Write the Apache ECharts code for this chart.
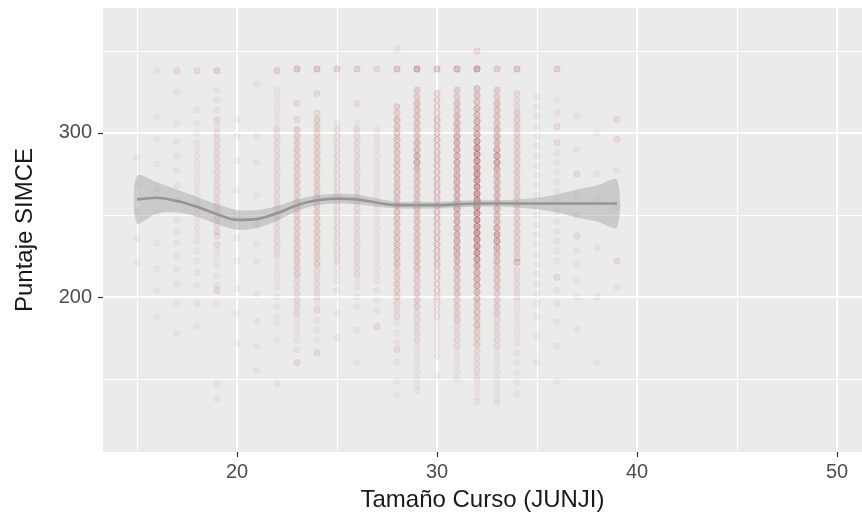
<!DOCTYPE html>
<html>
<head>
<meta charset="utf-8">
<script src="https://cdn.jsdelivr.net/npm/echarts@6.0.0/dist/echarts.min.js"></script>
<style>
  html, body { margin: 0; padding: 0; background: #fff; }
  #chart { width: 862px; height: 527px; }
</style>
</head>
<body>
<div id="chart"></div>
<script>
// puntajes por tamaño de curso: [puntaje, n° de escuelas]
var c15 = [[285,1],[268,1],[252,1],[236,1],[221,1]];
var c16 = [[338,1],[310,1],[296,1],[281,1],[266,1],[251,1],[233,1],[217,1],[204,1],[188,1]];
var c17 = [[338,2],[325,1],[306,1],[295,1],[286,1],[277,1],[268,1],[259,1],[247,1],[240,1],[233,1],[225,1],[217,1],[208,1],[196,1],[178,1]];
var c18 = [[338,2],[314,1],[306,1],[300,1],[294,1],[290,1],[286,1],[282,1],[278,1],[274,1],[270,1],[266,1],[262,1],[258,1],[254,1],[250,1],[246,1],[242,1],[238,1],[234,1],[228,1],[222,1],[215,1],[207,1],[196,1],[182,1]];
var c19 = [[338,3],[326,1],[320,1],[314,1],[308,2],[304,1],[300,2],[296,2],[292,2],[288,2],[284,2],[280,2],[276,2],[272,2],[268,2],[264,2],[260,2],[256,2],[252,2],[248,2],[244,2],[240,2],[237,2],[232,2],[228,1],[224,1],[219,1],[213,1],[207,1],[204,2],[196,1],[147,1],[138,1]];
var c20 = [[308,1],[298,1],[283,1],[265,1],[250,1],[236,1],[222,1],[205,1],[190,1],[172,1]];
var c21 = [[330,1],[298,1],[282,1],[262,1],[244,1],[232,1],[222,1],[202,1],[185,1],[170,1],[155,1]];
var c22 = [[338,3],[326,1],[322,1],[318,1],[314,1],[310,1],[306,1],[302,2],[298,2],[294,2],[290,2],[286,2],[282,2],[278,2],[274,2],[270,2],[266,2],[262,2],[258,2],[254,2],[250,2],[246,2],[242,2],[238,2],[234,2],[230,2],[226,2],[222,1],[218,1],[214,1],[210,1],[206,1],[200,1],[194,1],[188,1],[184,1],[174,1],[147,1]];
var c23 = [[339,4],[318,2],[308,2],[302,3],[298,3],[294,3],[290,3],[286,3],[282,3],[278,3],[274,3],[270,3],[266,3],[262,3],[258,3],[254,3],[250,3],[246,3],[242,3],[238,3],[234,3],[230,3],[226,3],[222,3],[218,3],[214,3],[210,2],[206,2],[202,2],[198,2],[194,2],[190,2],[186,1],[182,1],[178,1],[174,1],[168,1],[160,2]];
var c24 = [[339,4],[324,2],[312,2],[308,3],[304,3],[300,3],[296,3],[292,3],[288,3],[284,3],[280,3],[276,3],[272,3],[268,3],[264,3],[260,3],[256,3],[252,3],[248,3],[244,3],[240,3],[236,3],[232,3],[228,3],[224,3],[220,3],[216,2],[212,2],[208,2],[204,2],[200,2],[196,1],[192,2],[186,1],[180,1],[174,1],[166,2]];
var c25 = [[339,3],[306,1],[302,2],[298,2],[294,2],[290,2],[286,2],[282,2],[278,2],[274,2],[270,2],[266,2],[262,2],[258,2],[254,2],[250,2],[246,2],[242,2],[238,2],[234,2],[230,2],[226,2],[222,2],[218,1],[214,1],[210,1],[204,1],[190,1],[175,1]];
var c26 = [[339,3],[318,2],[306,1],[302,2],[298,2],[294,2],[290,2],[286,2],[282,2],[278,2],[274,2],[270,2],[266,2],[262,2],[258,2],[254,2],[250,2],[246,2],[242,2],[238,2],[234,2],[230,2],[226,2],[222,2],[218,2],[214,2],[210,1],[206,1],[200,1],[194,1],[180,1],[160,1]];
var c27 = [[339,2],[302,1],[298,1],[294,1],[290,1],[286,1],[282,1],[278,1],[274,1],[270,1],[266,1],[262,1],[258,1],[254,1],[250,1],[246,1],[242,1],[238,1],[234,1],[230,1],[226,1],[222,1],[218,1],[214,1],[210,1],[204,1],[198,1],[192,1],[182,2]];
var c28 = [[351,1],[339,4],[316,3],[312,3],[308,4],[304,4],[300,4],[296,4],[292,4],[288,4],[284,4],[280,4],[276,4],[272,4],[268,4],[264,4],[260,4],[256,4],[252,4],[248,4],[244,4],[240,4],[236,4],[232,4],[228,4],[224,4],[220,4],[216,3],[212,3],[208,3],[204,3],[200,3],[196,2],[192,2],[188,2],[184,1],[178,1],[172,1],[168,2],[160,1],[149,1],[140,1]];
var c29 = [[339,6],[326,3],[322,3],[318,4],[314,4],[310,4],[306,4],[302,4],[298,4],[294,5],[290,5],[286,6],[282,6],[278,5],[274,4],[270,4],[266,4],[262,4],[258,4],[254,4],[250,4],[246,4],[242,4],[238,4],[234,4],[230,4],[226,4],[222,4],[218,4],[214,3],[210,3],[206,3],[202,3],[198,3],[194,3],[190,2],[186,2],[182,2],[178,2],[174,2],[170,1],[166,1],[162,1],[158,1],[154,1],[150,1],[146,1],[143,1]];
var c30 = [[339,4],[324,3],[320,3],[316,3],[312,3],[308,4],[304,4],[300,4],[296,4],[292,4],[288,4],[284,4],[280,4],[276,4],[272,4],[268,4],[264,4],[260,4],[256,4],[252,4],[248,4],[244,4],[240,4],[236,4],[232,4],[228,4],[224,4],[220,4],[216,3],[212,3],[208,3],[204,3],[200,3],[196,2],[192,2],[188,2],[184,1],[180,1],[176,1],[172,1],[168,1],[164,1],[152,1]];
var c31 = [[339,5],[326,3],[322,3],[318,4],[314,4],[310,5],[306,5],[302,5],[298,6],[294,6],[290,6],[286,6],[282,6],[278,6],[274,6],[270,6],[266,6],[262,6],[258,6],[254,6],[250,6],[246,6],[242,6],[238,6],[234,6],[230,6],[226,6],[222,5],[218,5],[214,4],[210,4],[206,4],[202,4],[198,3],[194,3],[190,3],[186,3],[182,2],[178,2],[174,2],[170,2],[166,1],[162,1],[158,1],[154,1],[150,1]];
var c32 = [[350,2],[339,7],[327,4],[323,4],[319,4],[315,5],[311,5],[307,6],[303,6],[299,7],[295,8],[291,9],[287,9],[283,9],[279,9],[275,9],[271,9],[267,9],[263,9],[259,9],[255,9],[251,9],[247,9],[243,9],[239,9],[235,9],[231,9],[227,9],[223,8],[219,7],[215,6],[211,6],[207,6],[203,5],[199,5],[195,4],[191,4],[187,4],[183,4],[179,3],[175,3],[171,3],[167,2],[163,2],[159,2],[155,2],[151,2],[147,1],[143,1],[139,1],[136,1]];
var c33 = [[339,3],[326,3],[322,3],[318,4],[314,4],[310,4],[306,4],[302,5],[298,5],[294,5],[290,6],[286,7],[282,7],[278,6],[274,5],[270,5],[266,5],[262,5],[258,5],[254,5],[250,5],[246,5],[242,6],[238,7],[234,7],[230,6],[226,5],[222,5],[218,4],[214,4],[210,4],[206,4],[202,3],[198,3],[194,3],[190,3],[186,2],[182,2],[178,2],[174,2],[170,2],[166,1],[162,1],[158,1],[154,1],[150,1],[146,1],[142,1],[138,1],[135,1]];
var c34 = [[339,4],[324,2],[320,2],[316,2],[312,3],[308,3],[304,3],[300,3],[296,3],[292,3],[288,3],[284,3],[280,3],[276,3],[272,3],[268,3],[264,3],[260,3],[256,3],[252,3],[248,3],[244,3],[240,3],[236,3],[232,3],[228,3],[224,3],[221,4],[216,2],[212,2],[208,2],[204,2],[200,2],[196,1],[192,1],[188,1],[184,1],[180,1],[176,1],[172,1],[166,1],[160,1],[154,1],[148,1],[141,1]];
var c35 = [[322,1],[316,1],[310,1],[304,1],[298,1],[292,1],[286,1],[280,1],[274,1],[268,1],[262,1],[256,1],[250,1],[244,1],[238,1],[232,1],[226,1],[220,1],[214,1],[208,1],[202,1],[196,1],[188,1],[176,1],[160,1]];
var c36 = [[339,3],[320,1],[312,1],[304,2],[294,2],[288,1],[282,1],[276,1],[270,1],[264,1],[258,1],[252,1],[246,1],[240,1],[234,1],[228,1],[222,1],[212,2],[204,1],[196,1],[185,1],[170,1],[149,1]];
var c37 = [[310,1],[290,1],[275,2],[262,1],[250,1],[237,2],[228,1],[220,1],[210,1],[200,1],[180,1]];
var c38 = [[300,1],[275,1],[260,1],[230,1],[200,1],[160,1]];
var c39 = [[308,2],[296,2],[277,1],[255,1],[222,2],[206,1]];

var tamanos = [15,16,17,18,19,20,21,22,23,24,25,26,27,28,29,30,31,32,33,34,35,36,37,38,39];
var columnas = [c15,c16,c17,c18,c19,c20,c21,c22,c23,c24,c25,c26,c27,c28,c29,c30,c31,c32,c33,c34,c35,c36,c37,c38,c39];

// curva loess y banda de confianza
var suaveX = [15,16,17,18,19,20,21,22,23,24,25,26,27,28,29,30,31,32,33,34,35,36,37,38,39];
var suaveY = [259.5,260.5,258.5,255,250.5,247,247.5,251,256,259,260,259.5,257.5,256,256,256,256.5,257,257,257,257,257,257,257,257];
var bandaInf = [245,251,251.5,249,244.5,241,242,246.5,252.5,256,257,256.5,255,254,254,254,254.5,255,255,254.5,253.5,251.5,248.5,246,242.5];
var bandaSup = [274,270,265.5,261,256.5,253,253,255.5,259.5,262,263,262.5,260,258,258,258,258.5,259,259,259.5,260.5,262.5,265.5,268,271.5];

var xTicks = [20, 30, 40, 50];
var yTicks = [200, 300];

var puntos = [];
tamanos.forEach(function (t, i) {
  columnas[i].forEach(function (p) {
    for (var k = 0; k < p[1]; k++) puntos.push([t, p[0]]);
  });
});

var fuente = "'Liberation Sans', Arial, sans-serif";
var myChart = echarts.init(document.getElementById('chart'));
var option = {
  animation: false,
  grid: {
    left: 103, right: 0, top: 8, bottom: 75,
    show: true, backgroundColor: '#EBEBEB', borderWidth: 0
  },
  xAxis: {
    type: 'value',
    min: 13.3, max: 51.25,
    splitNumber: 4,
    name: 'Tamaño Curso (JUNJI)',
    nameLocation: 'middle',
    nameGap: 36,
    nameTextStyle: { fontFamily: fuente, fontSize: 24, color: '#1a1a1a' },
    axisLine: { show: false },
    axisTick: { show: true, length: 5, customValues: xTicks, lineStyle: { color: '#333', width: 1.2 } },
    axisLabel: { customValues: xTicks, margin: 10, fontFamily: fuente, fontSize: 20, color: '#4D4D4D' },
    splitLine: { show: true, lineStyle: { color: '#fff', width: 1.8 } },
    minorTick: { show: false, splitNumber: 2 },
    minorSplitLine: { show: true, lineStyle: { color: '#fff', width: 0.9 } }
  },
  yAxis: {
    type: 'value',
    min: 105.5, max: 376.2,
    splitNumber: 3,
    name: 'Puntaje SIMCE',
    nameLocation: 'middle',
    nameGap: 66,
    nameTextStyle: { fontFamily: fuente, fontSize: 24, color: '#1a1a1a' },
    axisLine: { show: false },
    axisTick: { show: true, length: 5, customValues: yTicks, lineStyle: { color: '#333', width: 1.2 } },
    axisLabel: { customValues: yTicks, margin: 11, fontFamily: fuente, fontSize: 20, color: '#4D4D4D' },
    splitLine: { show: true, lineStyle: { color: '#fff', width: 1.8 } },
    minorTick: { show: false, splitNumber: 2 },
    minorSplitLine: { show: true, lineStyle: { color: '#fff', width: 0.9 } }
  },
  series: [
    {
      type: 'scatter',
      data: puntos,
      symbolSize: 6.5,
      progressive: 0,
      z: 2,
      silent: true,
      itemStyle: {
        color: 'rgba(165,35,40,0.06)',
        borderColor: 'rgba(150,40,45,0.045)',
        borderWidth: 0.9
      }
    },
    {
      type: 'custom',
      z: 3,
      silent: true,
      data: suaveX.map(function (x, i) { return [x, bandaInf[i], bandaSup[i]]; }),
      encode: { x: 0, y: [1, 2] },
      renderItem: function (params, api) {
        if (params.dataIndex !== 0) return null;
        var pts = [];
        for (var i = 0; i < suaveX.length; i++) pts.push(api.coord([suaveX[i], bandaSup[i]]));
        for (var j = suaveX.length - 1; j >= 0; j--) pts.push(api.coord([suaveX[j], bandaInf[j]]));
        return {
          type: 'polygon',
          shape: { points: pts, smooth: 0.3 },
          style: { fill: 'rgba(153,153,153,0.4)' }
        };
      }
    },
    {
      type: 'line',
      z: 4,
      silent: true,
      data: suaveX.map(function (x, i) { return [x, suaveY[i]]; }),
      smooth: 0.3,
      showSymbol: false,
      symbol: 'none',
      lineStyle: { color: '#959595', width: 2.6 }
    }
  ]
};
myChart.setOption(option);
</script>
</body>
</html>
